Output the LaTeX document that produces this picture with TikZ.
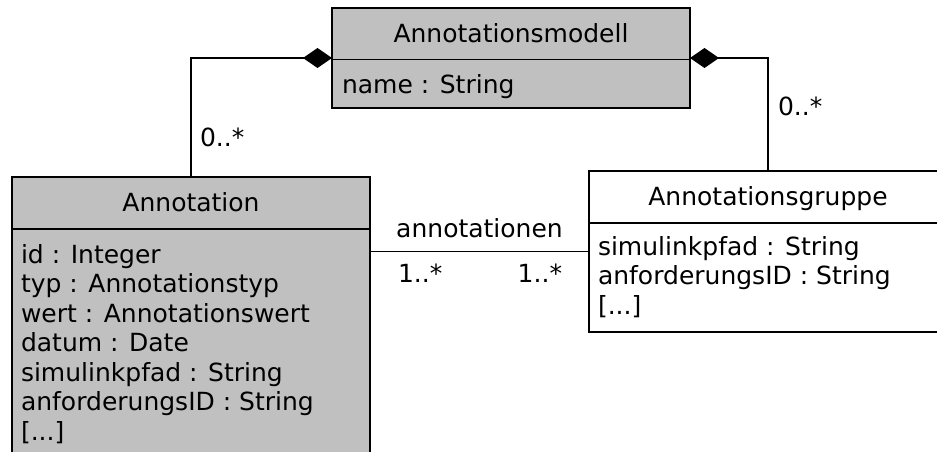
\documentclass[tikz,border=0pt]{standalone}
\usepackage{fontspec}
\setmainfont{DejaVu Sans}
\usetikzlibrary{arrows.meta}
\definecolor{umlgray}{RGB}{192,192,192}
\newcommand{\moreattrs}{[...]}
\begin{document}
\begin{tikzpicture}[x=1pt,y=-1pt,
  every node/.style={font=\fontsize{25}{29.5}\selectfont, inner sep=0pt, outer sep=0pt},
  classbox/.style={draw=black, line width=1.6pt, anchor=north west, minimum width=358pt},
  txt/.style={anchor=base west},
  ttl/.style={anchor=base},
  sep/.style={line width=1.6pt},
  conn/.style={line width=1.6pt},
  comp/.style={conn, {Diamond[length=29pt,width=20pt,fill=black]}-}
]
\useasboundingbox (0,0) rectangle (937,452);
% Annotationsmodell
\node[classbox, fill=umlgray, minimum height=100pt] (M) at (332,8) {};
\draw[sep] (332,59.5) -- (690,59.5);
\node[ttl] (Mt) at (511,43) {Annotationsmodell};
\node[txt] (Ma) at (342,93) {name : String};
% Annotation
\node[classbox, fill=umlgray, minimum height=290pt] (A) at (12,177) {};
\draw[sep] (12,229) -- (370,229);
\node[ttl] (At) at (191,211) {Annotation};
\foreach \t [count=\i from 0] in {{id : Integer},{typ : Annotationstyp},{wert : Annotationswert},{datum : Date},{simulinkpfad : String},{anforderungsID : String},{\moreattrs}}
  \node[txt] (A\i) at (21,263+29.5*\i) {\t};
% Annotationsgruppe
\node[classbox, fill=white, minimum height=161pt] (G) at (589,171) {};
\draw[sep] (589,223) -- (947,223);
\node[ttl] (Gt) at (768,205) {Annotationsgruppe};
\foreach \t [count=\i from 0] in {{simulinkpfad : String},{anforderungsID : String},{\moreattrs}}
  \node[txt] (G\i) at (598,255+29.5*\i) {\t};
% connectors
\draw[comp] (M.west) -| (A.north);
\draw[comp] (M.east) -| (G.north);
\draw[conn] (G.west) -- (A.east |- G.west);
% labels
\node[txt] (l1) at (200,146) {0..*};
\node[txt] (l2) at (778,115) {0..*};
\node[ttl] (l3) at (479.5,237) {annotationen};
\node[txt] (l4) at (398,282) {1..*};
\node[anchor=base east] (l5) at (562,282) {1..*};
\end{tikzpicture}
\end{document}
